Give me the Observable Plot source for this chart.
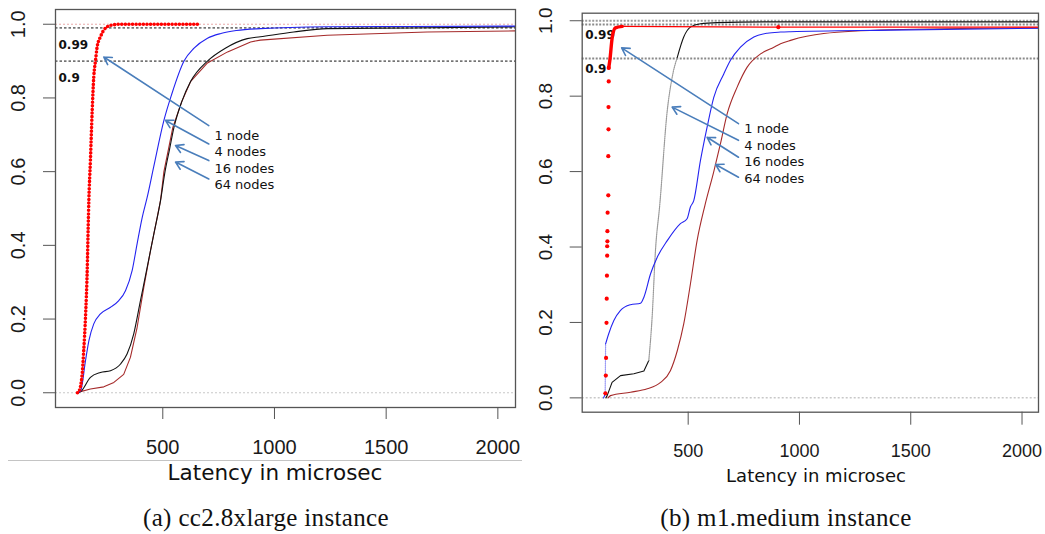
<!DOCTYPE html>
<html><head><meta charset="utf-8">
<script src="https://cdn.jsdelivr.net/npm/d3@7"></script>
<script src="https://cdn.jsdelivr.net/npm/@observablehq/plot@0.6"></script>
<style>
body{margin:0;background:#fff;}
#wrap{position:relative;width:1045px;height:534px;overflow:hidden;background:#fff;}
.panel{position:absolute;top:0;}
.t{position:absolute;white-space:nowrap;transform:translateX(-50%);line-height:1;color:#111;}
.xt{font-family:"DejaVu Sans";}
.cap{font-family:"Liberation Serif";color:#111;letter-spacing:0.35px;}
#sep{position:absolute;left:8px;top:460px;width:514px;height:0;border-top:1px solid #c4c4c4;}
</style>
</head><body>
<div id="wrap">
  <div id="pa" class="panel" style="left:0px"></div>
  <div id="pb" class="panel" style="left:530px"></div>
  <div id="sep"></div>
  <div class="t xt" style="left:275px;top:462px;font-size:21.5px">Latency in microsec</div>
  <div class="t xt" style="left:816px;top:467px;font-size:18px">Latency in microsec</div>
  <div class="t cap" style="left:266px;top:505px;font-size:25px">(a) cc2.8xlarge instance</div>
  <div class="t cap" style="left:786px;top:505px;font-size:25px">(b) m1.medium instance</div>
</div>
<script>
// ---------- shared ----------
const tickX = [500, 1000, 1500, 2000];
const tickY = [0, 0.2, 0.4, 0.6, 0.8, 1.0];
const refLevels = [0.9, 0.99];
const refLabels = ["0.9", "0.99"];
const seriesNames = ["1 node", "4 nodes", "16 nodes", "64 nodes"];

// ---------- panel (a) cc2.8xlarge : latency (microsec) / cumulative fraction ----------
const a1Lat = [118, 124, 139, 146, 154, 162, 166, 169, 176, 184, 191, 199, 206, 221, 236, 266, 311, 400, 669];
const a1Cdf = [0, 0.003, 0.05, 0.114, 0.205, 0.34, 0.449, 0.522, 0.63, 0.766, 0.857, 0.902, 0.938, 0.966, 0.984, 0.997, 1.0, 1.0, 1.0];
const a4Lat = [118, 132, 154, 169, 191, 221, 266, 303, 333, 363, 385, 408, 430, 460, 505, 540, 595, 640, 700, 760, 830, 937, 1236, 1600, 2079];
const a4Cdf = [0, 0.005, 0.087, 0.141, 0.187, 0.214, 0.232, 0.25, 0.277, 0.332, 0.404, 0.476, 0.53, 0.615, 0.739, 0.81, 0.9, 0.935, 0.962, 0.975, 0.983, 0.988, 0.993, 0.994, 0.995];
const a16Lat = [118, 132, 176, 221, 266, 311, 340, 370, 400, 430, 460, 490, 510, 530, 550, 585, 625, 700, 780, 878, 937, 1086, 1236, 1600, 2079];
const a16Cdf = [0, 0.003, 0.042, 0.055, 0.06, 0.078, 0.105, 0.16, 0.25, 0.34, 0.431, 0.522, 0.6, 0.66, 0.72, 0.79, 0.845, 0.9, 0.935, 0.961, 0.966, 0.979, 0.988, 0.99, 0.993];
const a64Lat = [118, 132, 176, 236, 281, 325, 355, 385, 415, 445, 475, 490, 505, 525, 545, 585, 625, 700, 790, 893, 937, 1236, 1683, 2079];
const a64Cdf = [0, 0.003, 0.01, 0.016, 0.028, 0.05, 0.096, 0.177, 0.286, 0.386, 0.476, 0.522, 0.6, 0.66, 0.72, 0.79, 0.845, 0.895, 0.925, 0.952, 0.957, 0.97, 0.979, 0.982];
// annotation arrows (a), in data units
const aArrowFromX = [706, 706, 706, 706];
const aArrowFromY = [0.725, 0.675, 0.630, 0.580];
const aArrowToX = [236, 512, 557, 557];
const aArrowToY = [0.911, 0.739, 0.671, 0.626];
const aLabelX = 731;
const aLabelY = [0.698, 0.653, 0.608, 0.565];

// ---------- panel (b) m1.medium ----------
const b1DotLat = [128, 130, 131, 133, 134, 135, 136, 136, 137, 137, 138, 141, 141, 142, 142, 143, 143, 905];
const b1DotCdf = [0.012, 0.059, 0.106, 0.199, 0.263, 0.324, 0.377, 0.402, 0.415, 0.442, 0.491, 0.537, 0.641, 0.712, 0.771, 0.839, 0.875, 0.983];
const b1TopLat = [143, 148, 159, 173, 204, 905, 2074];
const b1TopCdf = [0.875, 0.895, 0.957, 0.981, 0.985, 0.983, 0.983];
const b4Lat = [120, 127, 129, 143, 166, 196, 241, 286, 301, 331, 361, 406, 465, 495, 510, 525, 555, 585, 615, 660, 690, 735, 795, 855, 915, 960, 1409, 2074];
const b4Cdf = [0, 0.01, 0.143, 0.17, 0.205, 0.232, 0.247, 0.251, 0.267, 0.329, 0.373, 0.417, 0.462, 0.475, 0.506, 0.523, 0.629, 0.718, 0.797, 0.859, 0.895, 0.93, 0.957, 0.967, 0.97, 0.971, 0.975, 0.98];
const b16Lat = [130, 136, 158, 196, 256, 301, 323, 338, 353, 372, 406, 428, 451, 480, 510, 555, 630, 900, 2074];
const b16Cdf = [0, 0.006, 0.041, 0.059, 0.064, 0.071, 0.099, 0.214, 0.391, 0.51, 0.762, 0.85, 0.903, 0.957, 0.983, 0.992, 0.995, 0.997, 0.997];
const b64Lat = [140, 151, 241, 316, 376, 420, 451, 480, 510, 540, 575, 615, 645, 675, 720, 765, 825, 885, 915, 960, 1109, 1409, 2074];
const b64Cdf = [0, 0.006, 0.015, 0.024, 0.041, 0.072, 0.125, 0.196, 0.302, 0.417, 0.51, 0.6, 0.674, 0.753, 0.824, 0.877, 0.912, 0.93, 0.939, 0.948, 0.966, 0.976, 0.981];
const bArrowFromX = [726, 726, 726, 726];
const bArrowFromY = [0.727, 0.683, 0.638, 0.585];
const bArrowToX = [201, 428, 585, 623];
const bArrowToY = [0.928, 0.771, 0.691, 0.619];
const bLabelX = 752;
const bLabelY = [0.714, 0.669, 0.625, 0.581];

// ---------- helpers ----------
const pts = (xs, ys) => xs.map((x, i) => ({x, y: ys[i]}));
const within = (rows, lo, hi) => rows.filter(d => d.y >= lo && d.y <= hi);
const annot = (fx, fy, tx, ty, lx, ly) => seriesNames.map((name, i) => ({name, x1: fx[i], y1: fy[i], x2: tx[i], y2: ty[i], lx, ly: ly[i]}));
const fmt = d3.format(".1f");
const ARROW = "#4a7ebb";
const BROWN = "#a52a2a";
const BLUE = "#2323f0";

function axes(o) {
  return [
    Plot.frame({stroke: "#555", strokeWidth: 1.3}),
    Plot.axisX(tickX, {tickSize: o.xTickSize, tickPadding: o.xTickPad, tickFormat: d => String(d), fontSize: o.xFont, label: null, stroke: "#555", fill: "#1a1a1a", fontFamily: "Liberation Sans"}),
    Plot.axisY(tickY, {tickSize: 12, tickFormat: () => "", label: null, stroke: "#555"}),
    Plot.text(tickY, {y: d => d, frameAnchor: "left", dx: o.yDx, rotate: -90, textAnchor: "middle", lineAnchor: "middle", text: d => fmt(d), fontSize: o.yFont, fill: "#1a1a1a", fontFamily: "Liberation Sans"})
  ];
}

// ---------- panel (a) ----------
const aAnn = annot(aArrowFromX, aArrowFromY, aArrowToX, aArrowToY, aLabelX, aLabelY);
const chartA = Plot.plot({
  width: 525, height: 455,
  marginLeft: 55, marginRight: 10, marginTop: 9, marginBottom: 48,
  x: {domain: [19.7, 2079]},
  y: {domain: [-0.04, 1.04]},
  style: {fontFamily: "Liberation Sans", fontSize: "20px", background: "transparent", overflow: "visible"},
  marks: [
    Plot.ruleY([0], {stroke: "#c8c8c8", strokeDasharray: "2,2"}),
    Plot.ruleY([1], {stroke: "#e8a8a8", strokeDasharray: "2,2"}),
    Plot.ruleY(refLevels, {stroke: "#111", strokeDasharray: "2.5,2"}),
    Plot.text(refLabels, {y: (d, i) => refLevels[i], text: d => d, frameAnchor: "left", dx: 3, dy: 17, textAnchor: "start", fontWeight: "bold", fontSize: 12, fontFamily: "DejaVu Sans", fill: "#111"}),
    Plot.line(pts(a64Lat, a64Cdf), {x: "x", y: "y", stroke: BROWN, strokeWidth: 1.1}),
    Plot.line(pts(a16Lat, a16Cdf), {x: "x", y: "y", stroke: "#111", strokeWidth: 1.1, curve: "monotone-x"}),
    Plot.line(pts(a4Lat, a4Cdf), {x: "x", y: "y", stroke: BLUE, strokeWidth: 1.1, curve: "monotone-x"}),
    Plot.line(pts(a1Lat, a1Cdf), {x: "x", y: "y", stroke: "#ff0000", strokeWidth: 3.6, strokeDasharray: "0,3.6", strokeLinecap: "round", curve: "monotone-x"}),
    Plot.arrow(aAnn, {x1: "x1", y1: "y1", x2: "x2", y2: "y2", stroke: ARROW, strokeWidth: 1.6, headLength: 8}),
    Plot.text(aAnn, {x: "lx", y: "ly", text: "name", textAnchor: "start", fontSize: 13, fontFamily: "DejaVu Sans", fill: "#111"}),
    ...axes({xTickSize: 12, xTickPad: 20, xFont: 20, yDx: -36.5, yFont: 20})
  ]
});
document.getElementById("pa").appendChild(chartA);

// ---------- panel (b) ----------
const bAnn = annot(bArrowFromX, bArrowFromY, bArrowToX, bArrowToY, bLabelX, bLabelY);
const b4 = pts(b4Lat, b4Cdf);
const b16 = pts(b16Lat, b16Cdf);
const b1Top = pts(b1TopLat, b1TopCdf);
const chartB = Plot.plot({
  width: 515, height: 460,
  marginLeft: 51.7, marginRight: 7, marginTop: 12.7, marginBottom: 48.3,
  x: {domain: [23.8, 2074]},
  y: {domain: [-0.038, 1.02]},
  style: {fontFamily: "Liberation Sans", fontSize: "18px", background: "transparent", overflow: "visible"},
  marks: [
    Plot.ruleY([0], {stroke: "#c8c8c8", strokeDasharray: "2,2", strokeWidth: 1.5}),
    Plot.ruleY([1], {stroke: "#9a9a9a", strokeDasharray: "2,1.5", strokeWidth: 2}),
    Plot.ruleY(refLevels, {stroke: "#8a8a8a", strokeDasharray: "2,1.5", strokeWidth: 2}),
    Plot.text(refLabels, {y: (d, i) => refLevels[i], text: d => d, frameAnchor: "left", dx: 3, dy: 10.5, textAnchor: "start", fontWeight: "bold", fontSize: 12, fontFamily: "DejaVu Sans", fill: "#111"}),
    Plot.line(pts(b64Lat, b64Cdf), {x: "x", y: "y", stroke: BROWN, strokeWidth: 1.1, curve: "monotone-x"}),
    Plot.line(within(b16, 0, 0.099), {x: "x", y: "y", stroke: "#111", strokeWidth: 1.1}),
    Plot.line(within(b16, 0.099, 0.903), {x: "x", y: "y", stroke: "#999", strokeWidth: 1.2, strokeDasharray: "1,1", curve: "monotone-x"}),
    Plot.line(within(b16, 0.903, 1), {x: "x", y: "y", stroke: "#111", strokeWidth: 1.1, curve: "monotone-x"}),
    Plot.line(within(b4, 0, 0.01), {x: "x", y: "y", stroke: BLUE, strokeWidth: 1.1}),
    Plot.line(within(b4, 0.01, 0.143), {x: "x", y: "y", stroke: "#9a9af5", strokeWidth: 1.2, strokeDasharray: "1,1"}),
    Plot.line(within(b4, 0.143, 1), {x: "x", y: "y", stroke: BLUE, strokeWidth: 1.1, curve: "monotone-x"}),
    Plot.line(b1Top.filter(d => d.x <= 204), {x: "x", y: "y", stroke: "#ff0000", strokeWidth: 3.4, curve: "monotone-x"}),
    Plot.line(b1Top.filter(d => d.x >= 204), {x: "x", y: "y", stroke: "#ff0000", strokeWidth: 1.1}),
    Plot.dot(pts(b1DotLat, b1DotCdf), {x: "x", y: "y", r: 2.1, fill: "#ff0000"}),
    Plot.arrow(bAnn, {x1: "x1", y1: "y1", x2: "x2", y2: "y2", stroke: ARROW, strokeWidth: 1.6, headLength: 8}),
    Plot.text(bAnn, {x: "lx", y: "ly", text: "name", textAnchor: "start", fontSize: 13, fontFamily: "DejaVu Sans", fill: "#111"}),
    ...axes({xTickSize: 13, xTickPad: 18.6, xFont: 18, yDx: -36.7, yFont: 19})
  ]
});
document.getElementById("pb").appendChild(chartB);
</script>
</body></html>
